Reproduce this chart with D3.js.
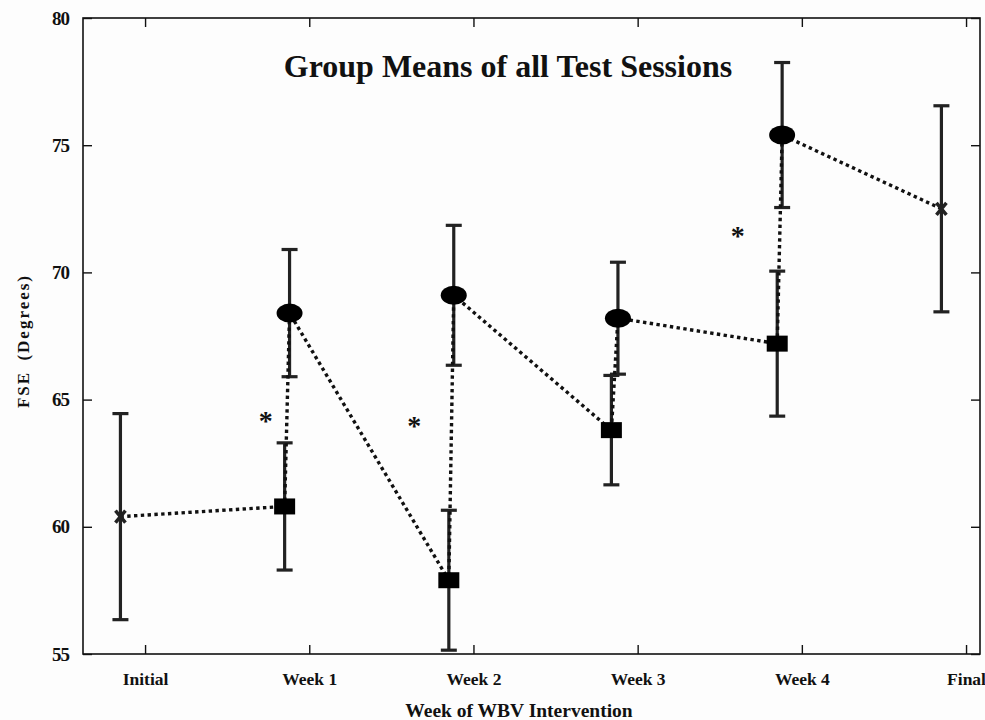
<!DOCTYPE html>
<html>
<head>
<meta charset="utf-8">
<script src="https://cdn.jsdelivr.net/npm/d3@7"></script>
<style>
  body { margin: 0; background: #fdfdfd; }
  text { font-family: "Liberation Serif", serif; font-weight: bold; fill: #111; }
</style>
</head>
<body>
<svg id="chart" width="985" height="720"></svg>
<script>
// tick categories on the x axis
const categories = ['Initial', 'Week 1', 'Week 2', 'Week 3', 'Week 4', 'Final'];
const tickValues = [1, 2, 3, 4, 5, 6];
const yTicks = [55, 60, 65, 70, 75, 80];

// sessions in plotting order (pre = square, post = circle)
const sessionX    = [0.85, 1.85, 1.88, 2.85, 2.88, 3.84, 3.88, 4.85, 4.88, 5.85];
const sessionMean = [60.4, 60.8, 68.4, 57.9, 69.1, 63.8, 68.2, 67.2, 75.4, 72.5];
const sessionErr  = [4.05, 2.5, 2.5, 2.75, 2.75, 2.15, 2.2, 2.85, 2.85, 4.05];
const sessionMark = ['x', 'square', 'circle', 'square', 'circle', 'square', 'circle', 'square', 'circle', 'x'];

// significance stars
const starX = [1.735, 2.64, 4.61];
const starY = [64.3, 64.1, 71.6];

const svg = d3.select('#chart');
const box = {left: 83, top: 18, right: 980, bottom: 654};

const x = d3.scaleLinear().domain([0.622, 6.085]).range([box.left, box.right]);
const y = d3.scaleLinear().domain([55, 80]).range([box.bottom, box.top]);

const data = sessionX.map((v, i) => ({x: v, m: sessionMean[i], e: sessionErr[i], mark: sessionMark[i]}));

// frame
svg.append('rect')
  .attr('x', box.left).attr('y', box.top)
  .attr('width', box.right - box.left).attr('height', box.bottom - box.top)
  .style('fill', '#fdfdfd').style('stroke', '#111').style('stroke-width', 1.6);

const tickLen = 9;
const fmt = d => categories[tickValues.indexOf(d)];

// bottom axis, ticks inward
const xAxisB = svg.append('g')
  .attr('transform', `translate(0,${box.bottom})`)
  .call(d3.axisBottom(x).tickValues(tickValues).tickFormat(fmt).tickSizeInner(-tickLen).tickSizeOuter(0).tickPadding(19));
xAxisB.select('.domain').remove();
xAxisB.selectAll('text').style('font-size', '17.5px').style('font-family', '"Liberation Serif", serif').style('font-weight', 'bold').style('fill', '#111');
xAxisB.selectAll('line').style('stroke', '#111').style('stroke-width', 1.4);

const xAxisT = svg.append('g')
  .attr('transform', `translate(0,${box.top})`)
  .call(d3.axisTop(x).tickValues(tickValues).tickFormat('').tickSizeInner(-tickLen).tickSizeOuter(0));
xAxisT.select('.domain').remove();
xAxisT.selectAll('line').style('stroke', '#111').style('stroke-width', 1.4);

const yAxisL = svg.append('g')
  .attr('transform', `translate(${box.left},0)`)
  .call(d3.axisLeft(y).tickValues(yTicks).tickSizeInner(-tickLen).tickSizeOuter(0).tickPadding(14));
yAxisL.select('.domain').remove();
yAxisL.selectAll('text').style('font-size', '19px').style('font-family', '"Liberation Serif", serif').style('font-weight', 'bold').style('letter-spacing', '-1px').style('fill', '#111');
yAxisL.selectAll('line').style('stroke', '#111').style('stroke-width', 1.4);

const yAxisR = svg.append('g')
  .attr('transform', `translate(${box.right},0)`)
  .call(d3.axisRight(y).tickValues(yTicks).tickFormat('').tickSizeInner(-tickLen).tickSizeOuter(0));
yAxisR.select('.domain').remove();
yAxisR.selectAll('line').style('stroke', '#111').style('stroke-width', 1.4);

// error bars
const capW = 8;
const eb = svg.append('g').attr('class', 'errorbars');
data.forEach(d => {
  eb.append('line')
    .attr('x1', x(d.x)).attr('x2', x(d.x))
    .attr('y1', y(d.m - d.e)).attr('y2', y(d.m + d.e));
  eb.append('line')
    .attr('x1', x(d.x) - capW).attr('x2', x(d.x) + capW)
    .attr('y1', y(d.m + d.e)).attr('y2', y(d.m + d.e));
  eb.append('line')
    .attr('x1', x(d.x) - capW).attr('x2', x(d.x) + capW)
    .attr('y1', y(d.m - d.e)).attr('y2', y(d.m - d.e));
});
eb.selectAll('line').style('stroke', '#222').style('stroke-width', 3.2);

// dotted connecting line
const line = d3.line().x(d => x(d.x)).y(d => y(d.m));
svg.append('path')
  .datum(data)
  .attr('d', line)
  .style('fill', 'none')
  .style('stroke', '#111')
  .style('stroke-width', 3.4)
  .style('stroke-dasharray', '3.4,3.4');

// markers
const mk = svg.append('g').attr('class', 'markers');
data.forEach(d => {
  const cx = x(d.x), cy = y(d.m);
  if (d.mark === 'circle') {
    mk.append('ellipse').attr('cx', cx).attr('cy', cy).attr('rx', 13).attr('ry', 9.5).style('fill', '#000');
  } else if (d.mark === 'square') {
    mk.append('rect').attr('x', cx - 10.5).attr('y', cy - 8).attr('width', 21).attr('height', 16).style('fill', '#000');
  } else {
    mk.append('path')
      .attr('d', `M${cx - 5},${cy - 6}L${cx + 5},${cy + 6}M${cx + 5},${cy - 6}L${cx - 5},${cy + 6}`)
      .style('stroke', '#222').style('stroke-width', 3.5);
  }
});

// significance stars
svg.selectAll('.star')
  .data(starX)
  .enter()
  .append('text')
  .attr('class', 'star')
  .attr('x', d => x(d))
  .attr('y', (d, i) => y(starY[i]) + 13)
  .style('text-anchor', 'middle')
  .style('font-size', '28px')
  .text('*');

// title and axis labels
svg.append('text')
  .attr('x', 508).attr('y', 77)
  .style('text-anchor', 'middle')
  .style('font-size', '32px')
  .text('Group Means of all Test Sessions');

svg.append('text')
  .attr('x', 519).attr('y', 717)
  .style('text-anchor', 'middle')
  .style('font-size', '19.5px')
  .text('Week of WBV Intervention');

svg.append('text')
  .attr('transform', 'translate(29,341) rotate(-90)')
  .style('text-anchor', 'middle')
  .style('font-size', '17px')
  .style('letter-spacing', '2px')
  .style('word-spacing', '4px')
  .text('FSE (Degrees)');
</script>
</body>
</html>
